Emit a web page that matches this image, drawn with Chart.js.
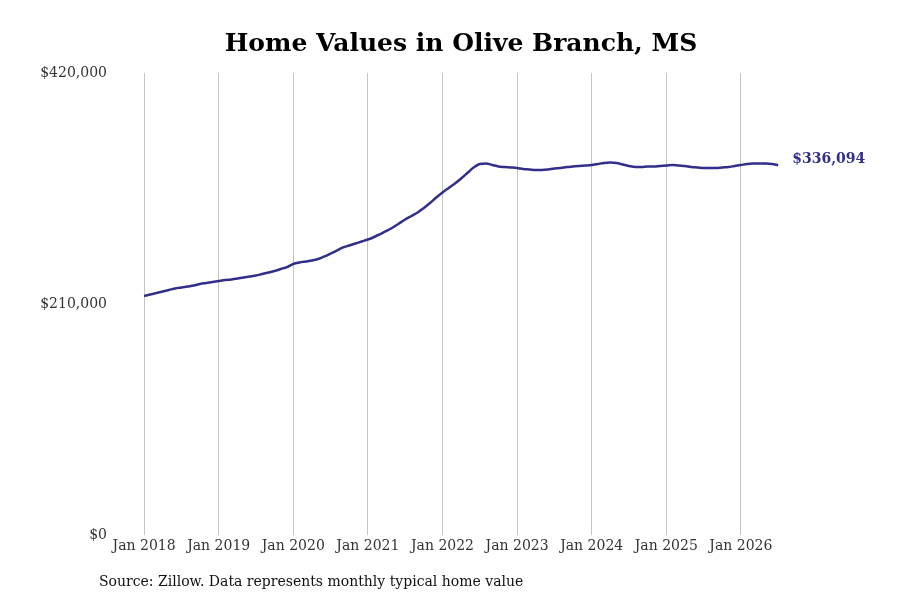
<!DOCTYPE html>
<html>
<head>
<meta charset="utf-8">
<script src="https://cdn.jsdelivr.net/npm/chart.js@4.4.0/dist/chart.umd.min.js"></script>
<style>
  body { margin: 0; background: #fff; }
  #wrap { width: 900px; height: 600px; }
</style>
</head>
<body>
<div id="wrap"><canvas id="chart_home" width="900" height="600"></canvas></div>
<script>
/* 데이터 */
const chartTitle = 'Home Values in Olive Branch, MS';
const sourceNote = 'Source: Zillow. Data represents monthly typical home value';
const tickLabels = ['Jan 2018', 'Jan 2019', 'Jan 2020', 'Jan 2021', 'Jan 2022', 'Jan 2023', 'Jan 2024', 'Jan 2025', 'Jan 2026'];
const yTicks = [0, 210000, 420000];

// monthly typical home value, Jan 2018 .. Jul 2026
const values2018 = [217300, 218600, 220000, 221400, 222700, 224100, 225000, 225900, 226800, 228200, 229100, 230000];
const values2019 = [230900, 231800, 232300, 233200, 234100, 235000, 235900, 237300, 238600, 240000, 241800, 243600];
const values2020 = [246400, 247700, 248600, 249500, 250900, 253200, 255900, 258600, 261400, 263200, 265000, 266800];
const values2021 = [268600, 270900, 273600, 276400, 279500, 283200, 286800, 290000, 293200, 297300, 301800, 306800];
const values2022 = [311400, 315500, 319500, 324100, 329100, 334100, 337300, 337700, 336400, 335000, 334500, 334100];
const values2023 = [333600, 332700, 332300, 331800, 331800, 332300, 333200, 333600, 334500, 335000, 335500, 335900];
const values2024 = [336400, 337300, 338200, 338600, 338200, 336800, 335500, 334500, 334500, 335000, 335000, 335500];
const values2025 = [335900, 336400, 335900, 335500, 334500, 334100, 333600, 333600, 333600, 334100, 334500, 335500];
const values2026 = [336400, 337300, 337700, 337700, 337700, 337300, 336094];

const homeValues = [].concat(values2018, values2019, values2020, values2021, values2022,
  values2023, values2024, values2025, values2026);

const lineColor = '#312f8a';

/* 제목, 마지막 값 라벨, 출처 */
const extraText = {
  id: 'extraText',
  afterDatasetsDraw(chart) {
    const ctx = chart.ctx;
    const meta = chart.getDatasetMeta(0);
    const last = meta.data[meta.data.length - 1];
    const lastVal = homeValues[homeValues.length - 1];
    ctx.save();
    ctx.textBaseline = 'middle';

    ctx.font = 'bold 25px "DejaVu Serif"';
    ctx.fillStyle = '#000';
    ctx.textAlign = 'center';
    ctx.fillText(chartTitle, 461, 44);

    ctx.font = 'bold 14px "DejaVu Serif"';
    ctx.fillStyle = lineColor;
    ctx.textAlign = 'left';
    ctx.fillText('$' + lastVal.toLocaleString('en-US'), last.x + 14, last.y - 6);

    ctx.font = '14px "DejaVu Serif"';
    ctx.fillStyle = '#111';
    ctx.fillText(sourceNote, 99, 582);
    ctx.restore();
  }
};

const ctx_home = document.getElementById('chart_home');

var config_home = {
  type: 'line',
  data: {
    datasets: [{
      label: 'Home value',
      data: homeValues.map((v, i) => ({ x: i, y: v })),
      borderColor: lineColor,
      backgroundColor: lineColor,
      borderWidth: 2.5,
      pointRadius: 0,
      tension: 0.4,
      cubicInterpolationMode: 'monotone'
    }]
  },
  options: {
    responsive: false,
    animation: false,
    layout: { padding: { left: 0, right: 41, top: 73, bottom: 40 } },
    plugins: {
      legend: { display: false },
      tooltip: { enabled: false },
      title: { display: false }
    },
    scales: {
      x: {
        type: 'linear',
        min: -5,
        max: 115,
        afterBuildTicks: (scale) => {
          scale.ticks = tickLabels.map((t, i) => ({ value: i * 12 }));
        },
        afterFit: (scale) => { scale.height = 25; },
        ticks: {
          color: '#333',
          font: { family: 'DejaVu Serif', size: 14 },
          padding: 3,
          maxRotation: 0,
          autoSkip: false,
          callback: (v) => tickLabels[Math.round(v / 12)]
        },
        grid: { display: true, color: '#c4c4c4', lineWidth: 1, drawTicks: false },
        border: { display: false }
      },
      y: {
        min: 0,
        max: 420000,
        afterBuildTicks: (scale) => {
          scale.ticks = yTicks.map(v => ({ value: v }));
        },
        afterFit: (scale) => { scale.width = 113; },
        ticks: {
          color: '#333',
          font: { family: 'DejaVu Serif', size: 14 },
          padding: 6,
          callback: (v) => '$' + v.toLocaleString('en-US')
        },
        grid: { display: false, drawTicks: false },
        border: { display: false }
      }
    }
  },
  plugins: [extraText]
};

var chart_home = new Chart(ctx_home, config_home);
</script>
</body>
</html>
